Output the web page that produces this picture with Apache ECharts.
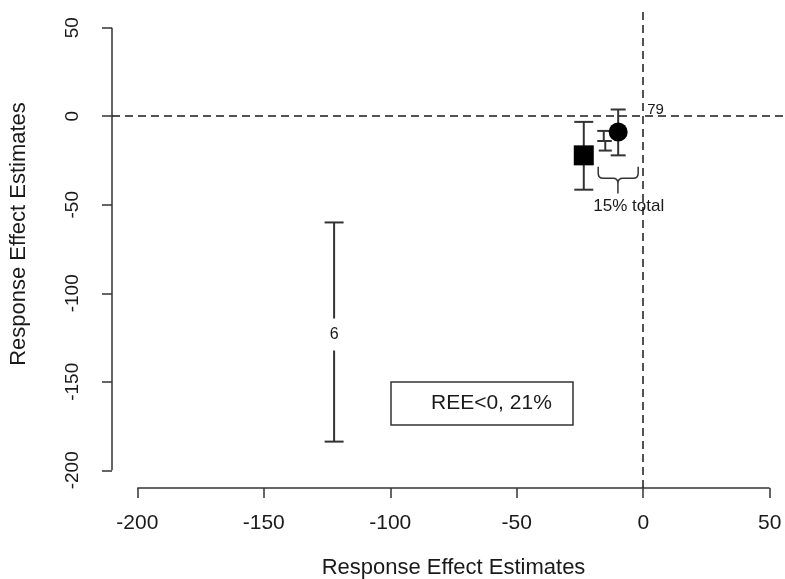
<!DOCTYPE html>
<html><head><meta charset="utf-8">
<script src="https://cdn.jsdelivr.net/npm/echarts@6/dist/echarts.min.js"></script>
<style>html,body{margin:0;padding:0;background:#fff}#c{width:785px;height:579px}</style>
</head><body><div id="c"></div>
<script>
// ---- data ----
const xTicks = [-200, -150, -100, -50, 0, 50];
const yTicks = [-200, -150, -100, -50, 0, 50];
const axisMin = -210, axisMax = 60;
const axisTitle = 'Response Effect Estimates';
// points [x, y]
const squarePoints = [[-23.5, -22.1]];
const circlePoints = [[-9.9, -8.9]];
// error bars [x, low, high]
const errorBars = [
  [-23.5, -41.5, -3.2],
  [-9.9, -22.1, 3.8],
  [-15.6, -14.0, -8.3],
  [-15.0, -19.4, -14.0],
  [-122.2, -183.8, -60.0]
];
// brace [xLeft, xRight, yTop, yMid, yTip, xTip]
const braces = [[-17.8, -2.0, -28.5, -35.0, -43.6, -10.0]];
// text annotations
const annoText = ['79', '15% total', '6'];
const annoX = [1.6, -5.7, -122.2];
const annoY = [3.4, -51.0, -123.3];
const legendText = 'REE<0, 21%';

// ---- styles ----
const FONT = '"Liberation Sans", Arial, sans-serif';
const INK = '#1a1a1a';
const capHalf = [9.5, 7.5, 6.5, 6.5, 9.5];

const chart = echarts.init(document.getElementById('c'), null, {renderer: 'canvas'});

const annoData = annoText.map((t, i) => {
  const item = {name: t, value: [annoX[i], annoY[i]]};
  if (i === 0) item.label = {position: 'right', distance: 0, fontSize: 15};
  if (i === 1) item.label = {position: 'inside', fontSize: 17};
  if (i === 2) item.label = {position: 'inside', fontSize: 16, backgroundColor: '#fff', padding: [8, 4]};
  return item;
});

const option = {
  animation: false,
  backgroundColor: '#fff',
  textStyle: {fontFamily: FONT},
  title: {
    text: legendText, left: 391, top: 382,
    padding: [11, 21, 11, 40],
    borderColor: '#333', borderWidth: 1.5,
    textStyle: {fontSize: 21, fontWeight: 'normal', color: INK, fontFamily: FONT}
  },
  grid: {left: 112, top: 10, width: 683, height: 478, outerBoundsMode: 'none', containLabel: false},
  xAxis: {
    type: 'value', min: axisMin, max: axisMax,
    axisLine: {show: false, onZero: false},
    splitLine: {show: false},
    axisTick: {show: true, customValues: xTicks, length: 10, lineStyle: {color: '#333', width: 1.5}},
    axisLabel: {customValues: xTicks, margin: 25, fontSize: 21, color: INK, fontFamily: FONT},
    name: axisTitle, nameLocation: 'middle', nameGap: 69,
    nameTextStyle: {fontSize: 22, color: INK, fontFamily: FONT}
  },
  yAxis: {
    type: 'value', min: axisMin, max: axisMax,
    axisLine: {show: false, onZero: false},
    splitLine: {show: false},
    axisTick: {show: true, customValues: yTicks, length: 10, lineStyle: {color: '#333', width: 1.5}},
    axisLabel: {customValues: yTicks, rotate: 90, margin: 30, fontSize: 19, color: INK, fontFamily: FONT},
    name: axisTitle, nameLocation: 'middle', nameGap: 82,
    nameTextStyle: {fontSize: 22, color: INK, fontFamily: FONT, padding: [0, 0, 0, 30]}
  },
  series: [
    { // x axis line over the tick range
      type: 'line', clip: false, symbol: 'none', silent: true, z: 1,
      data: [[xTicks[0], axisMin], [xTicks[xTicks.length - 1], axisMin]],
      lineStyle: {color: '#333', width: 1.5}
    },
    { // y axis line over the tick range
      type: 'line', clip: false, symbol: 'none', silent: true, z: 1,
      data: [[axisMin, yTicks[0]], [axisMin, yTicks[yTicks.length - 1]]],
      lineStyle: {color: '#333', width: 1.5}
    },
    {
      type: 'custom', z: 2, clip: false,
      data: errorBars,
      encode: {x: 0, y: [1, 2]},
      renderItem: (params, api) => {
        const x = api.value(0), lo = api.value(1), hi = api.value(2);
        const a = api.coord([x, lo]), b = api.coord([x, hi]);
        const w = capHalf[params.dataIndex];
        const st = {stroke: '#333', lineWidth: 2};
        return {type: 'group', children: [
          {type: 'line', shape: {x1: a[0], y1: a[1], x2: b[0], y2: b[1]}, style: st},
          {type: 'line', shape: {x1: a[0] - w, y1: a[1], x2: a[0] + w, y2: a[1]}, style: st},
          {type: 'line', shape: {x1: b[0] - w, y1: b[1], x2: b[0] + w, y2: b[1]}, style: st}
        ]};
      }
    },
    {
      type: 'custom', z: 2, clip: false,
      data: braces,
      encode: {x: [0, 1], y: [2, 4]},
      renderItem: (params, api) => {
        const A = api.coord([api.value(0), api.value(2)]);
        const B = api.coord([api.value(1), api.value(2)]);
        const M = api.coord([api.value(5), api.value(3)]);
        const T = api.coord([api.value(5), api.value(4)]);
        const r = 5, yM = M[1];
        const d = `M${A[0]} ${A[1]} L${A[0]} ${yM - r} Q${A[0]} ${yM} ${A[0] + r} ${yM} L${T[0] - r} ${yM} Q${T[0]} ${yM} ${T[0]} ${yM + r} L${T[0]} ${T[1]} ` +
                  `M${T[0]} ${yM + r} Q${T[0]} ${yM} ${T[0] + r} ${yM} L${B[0] - r} ${yM} Q${B[0]} ${yM} ${B[0]} ${yM - r} L${B[0]} ${B[1]}`;
        return {type: 'path', shape: {pathData: d}, style: {stroke: '#333', lineWidth: 1.5, fill: null}};
      }
    },
    {
      type: 'scatter', z: 3, symbol: 'rect', symbolSize: 20,
      itemStyle: {color: '#000', opacity: 1},
      data: squarePoints,
      markLine: {
        silent: true, symbol: 'none', label: {show: false},
        lineStyle: {color: INK, width: 1.5, type: [8, 5], opacity: 1},
        data: [{xAxis: 0}, {yAxis: 0}]
      }
    },
    {
      type: 'scatter', z: 3, symbol: 'circle', symbolSize: 19,
      itemStyle: {color: '#000', opacity: 1},
      data: circlePoints
    },
    {
      type: 'scatter', z: 5, symbolSize: 0,
      itemStyle: {opacity: 1},
      data: annoData,
      label: {show: true, formatter: p => p.name, color: INK, fontFamily: FONT}
    }
  ]
};
chart.setOption(option);
</script>
</body></html>
